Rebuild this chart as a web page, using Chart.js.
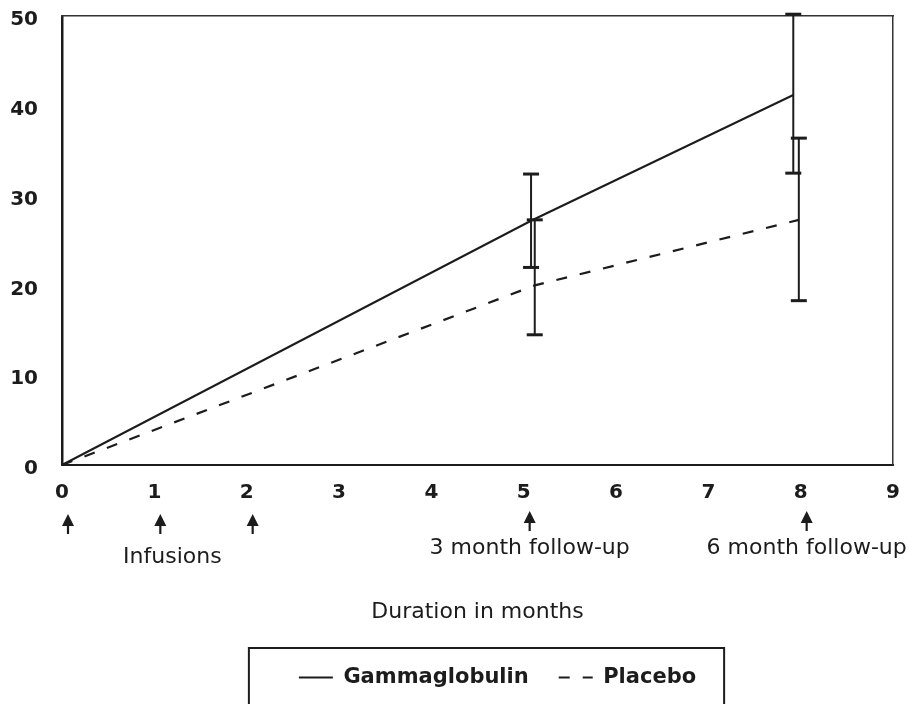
<!DOCTYPE html>
<html>
<head>
<meta charset="utf-8">
<script src="https://cdn.jsdelivr.net/npm/chart.js@4/dist/chart.umd.min.js"></script>
<style>
  html, body { margin: 0; padding: 0; background: #ffffff; }
  #wrap { width: 915px; height: 704px; position: relative; }
</style>
</head>
<body>
<div id="wrap"><canvas id="c" width="915" height="704"></canvas></div>
<script>
// ---- Data ----
const gammaMonths  = [0, 5.08, 7.92];
const gammaMean    = [0, 27.2, 41.2];
const gammaLow     = [null, 22.0, 32.5];
const gammaHigh    = [null, 32.4, 50.2];

const placeboMonths = [0, 5.12, 7.98];
const placeboMean   = [0, 20.0, 27.3];
const placeboLow    = [null, 14.5, 18.3];
const placeboHigh   = [null, 27.3, 36.4];

const xTickValues = [0, 1, 2, 3, 4, 5, 6, 7, 8, 9];
const yTickValues = [0, 10, 20, 30, 40, 50];

const infusionMonths = [0, 1, 2];
const infusionLabel = 'Infusions';
const followUpMonths = [5, 8];
const followUpLabels = ['3 month follow-up', '6 month follow-up'];

const seriesNames = ['Gammaglobulin', 'Placebo'];
const xTitle = 'Duration in months';

// ---- Build datasets ----
const INK = '#1c1c1c';
const FONT = "'DejaVu Sans', 'Liberation Sans', Arial, sans-serif";
const CLEAR = 'rgba(0,0,0,0)';

function pts(xs, ys) { return xs.map((x, i) => ({ x: x, y: ys[i] })); }

function errorBars(xs, lo, hi) {
  const out = [];
  xs.forEach((x, i) => {
    if (lo[i] == null || hi[i] == null) return;
    out.push({
      label: '',
      errorBar: true,
      data: [{ x: x, y: lo[i] }, { x: x, y: hi[i] }],
      borderColor: INK,
      borderWidth: 2,
      pointStyle: 'line',
      pointRadius: 8,
      pointBorderWidth: 3,
      pointBorderColor: INK,
      pointBackgroundColor: INK,
      clip: false
    });
  });
  return out;
}

const datasets = [
  {
    label: seriesNames[0],
    data: pts(gammaMonths, gammaMean),
    borderColor: INK,
    borderWidth: 2,
    pointRadius: 0,
    tension: 0,
    clip: false
  },
  {
    label: seriesNames[1],
    data: pts(placeboMonths, placeboMean),
    borderColor: INK,
    borderWidth: 2.2,
    borderDash: [11, 13],
    pointRadius: 0,
    tension: 0,
    clip: false
  },
  ...errorBars(gammaMonths, gammaLow, gammaHigh),
  ...errorBars(placeboMonths, placeboLow, placeboHigh)
];

// ---- Plugins ----
const annotations = {
  id: 'annotations',
  afterDraw(chart) {
    const { ctx } = chart;
    const x = chart.scales.x;
    const base = x.top;
    ctx.save();
    ctx.fillStyle = INK;
    ctx.strokeStyle = INK;
    const arrow = (px, top) => {
      ctx.beginPath();
      ctx.moveTo(px, top);
      ctx.lineTo(px - 6, top + 12);
      ctx.lineTo(px + 6, top + 12);
      ctx.closePath();
      ctx.fill();
      ctx.lineWidth = 2.2;
      ctx.beginPath();
      ctx.moveTo(px, top + 8);
      ctx.lineTo(px, top + 20);
      ctx.stroke();
    };
    infusionMonths.forEach(m => arrow(x.getPixelForValue(m) + 6, base + 49));
    followUpMonths.forEach(m => arrow(x.getPixelForValue(m) + 6, base + 46));

    ctx.font = '22px ' + FONT;
    ctx.textAlign = 'center';
    ctx.textBaseline = 'middle';
    const mid = (x.getPixelForValue(infusionMonths[0]) + x.getPixelForValue(infusionMonths[infusionMonths.length - 1])) / 2;
    ctx.fillText(infusionLabel, mid + 18, base + 92);
    followUpMonths.forEach((m, i) => {
      ctx.fillText(followUpLabels[i], x.getPixelForValue(m) + 6, base + 83);
    });
    ctx.restore();
  }
};

const legendShift = {
  id: 'legendShift',
  afterLayout(chart) {
    const lg = chart.legend;
    if (lg) { lg.left += 20; lg.right += 20; }
  }
};

const legendFrame = {
  id: 'legendFrame',
  afterDraw(chart) {
    const lg = chart.legend;
    if (!lg || !lg.legendHitBoxes || !lg.legendHitBoxes.length) return;
    const boxes = lg.legendHitBoxes;
    const minL = Math.min(...boxes.map(b => b.left));
    const maxR = Math.max(...boxes.map(b => b.left + b.width));
    const { ctx } = chart;
    ctx.save();
    ctx.strokeStyle = INK;
    ctx.lineWidth = 2;
    ctx.strokeRect(minL - 50, lg.top + 11, (maxR - minL) + 50 + 28, 90);
    ctx.restore();
  }
};

Chart.defaults.font.family = FONT;
Chart.defaults.color = INK;

new Chart(document.getElementById('c'), {
  type: 'line',
  data: { datasets: datasets },
  options: {
    responsive: false,
    animation: false,
    events: [],
    layout: { padding: { top: 16, right: 22, bottom: 6, left: 0 } },
    plugins: {
      tooltip: { enabled: false },
      legend: {
        display: true,
        position: 'bottom',
        fullSize: false,
        labels: {
          usePointStyle: true,
          pointStyle: 'line',
          pointStyleWidth: 34,
          padding: 30,
          color: INK,
          font: { family: FONT, size: 21, weight: 'bold' },
          generateLabels(chart) {
            return chart.data.datasets
              .map((ds, i) => ({ ds, i }))
              .filter(o => !o.ds.errorBar)
              .map(o => ({
                text: o.ds.label,
                datasetIndex: o.i,
                fillStyle: INK,
                strokeStyle: INK,
                lineWidth: 2,
                lineDash: o.ds.borderDash || [],
                pointStyle: 'line',
                fontColor: INK,
                hidden: false
              }));
          }
        }
      }
    },
    scales: {
      x: {
        type: 'linear',
        position: 'bottom',
        min: 0,
        max: 9,
        afterBuildTicks(s) { s.ticks = xTickValues.map(v => ({ value: v })); },
        afterFit(s) { s.height = 172; },
        grid: { display: true, drawOnChartArea: false, drawTicks: true, tickLength: 16, color: CLEAR, tickColor: CLEAR },
        border: { display: true, color: INK, width: 2 },
        ticks: { padding: 0, color: INK, font: { family: FONT, size: 20, weight: 'bold' }, maxRotation: 0 },
        title: {
          display: true,
          text: xTitle,
          color: INK,
          font: { family: FONT, size: 22 },
          padding: { top: 0, bottom: 12 }
        }
      },
      y: {
        type: 'linear',
        position: 'left',
        min: 0,
        max: 50,
        afterBuildTicks(s) { s.ticks = yTickValues.map(v => ({ value: v })); },
        afterFit(s) { s.width = 62; },
        grid: { display: true, drawOnChartArea: false, drawTicks: true, tickLength: 24, color: CLEAR, tickColor: CLEAR },
        border: { display: true, color: INK, width: 2.5 },
        ticks: { padding: 0, labelOffset: 4, color: INK, font: { family: FONT, size: 20, weight: 'bold' } }
      },
      xTop: {
        type: 'linear',
        position: 'top',
        min: 0,
        max: 9,
        afterFit(s) { s.height = 0; },
        grid: { display: false, drawTicks: false },
        border: { display: true, color: '#333', width: 1.5 },
        ticks: { display: false }
      },
      yRight: {
        type: 'linear',
        position: 'right',
        min: 0,
        max: 50,
        afterFit(s) { s.width = 0; },
        grid: { display: false, drawTicks: false },
        border: { display: true, color: '#333', width: 1.5 },
        ticks: { display: false }
      }
    }
  },
  plugins: [annotations, legendShift, legendFrame]
});
</script>
</body>
</html>
